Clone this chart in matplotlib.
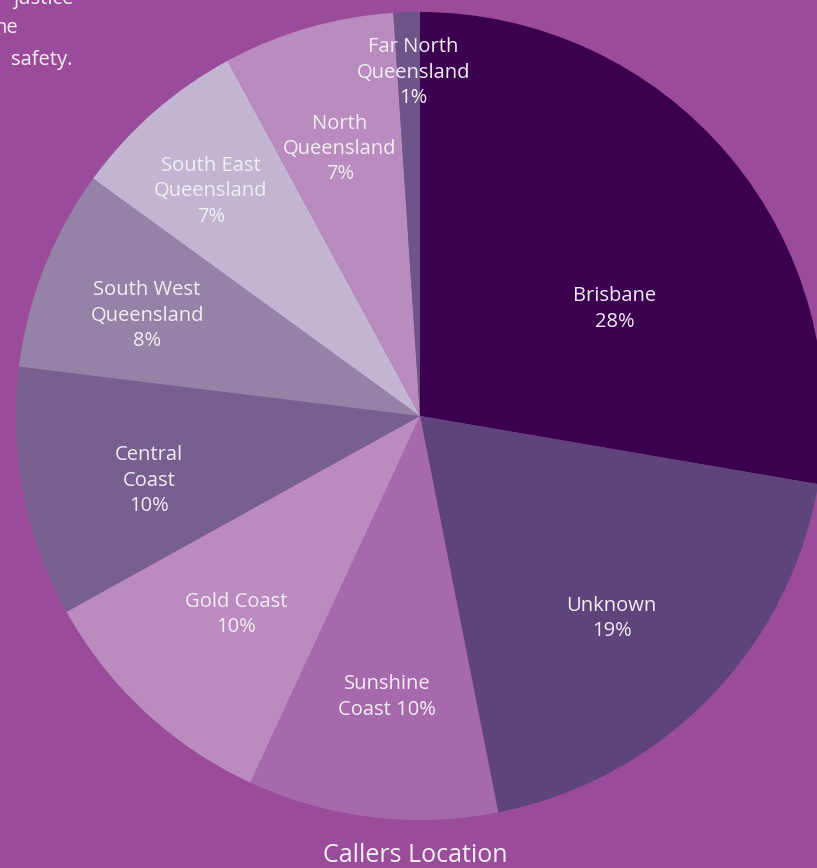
import numpy as np
import matplotlib
matplotlib.use("Agg")
import matplotlib.pyplot as plt

# Data
regions = ["Brisbane", "Unknown", "Sunshine Coast", "Gold Coast", "Central Coast",
           "South West Queensland", "South East Queensland", "North Queensland",
           "Far North Queensland"]
shares = [27.7, 19.2, 10.0, 10.05, 10.0, 8.05, 7.1, 6.85, 1.05]
label_texts = ["Brisbane\n28%", "Unknown\n19%", "Sunshine\nCoast 10%", "Gold Coast\n10%",
               "Central\nCoast\n10%", "South West\nQueensland\n8%", "South East\nQueensland\n7%",
               "North\nQueensland\n7%", "Far North\nQueensland\n1%"]
colors = ["#3c0050", "#5f447b", "#a66aac", "#bb8bc0", "#77608f",
          "#9483a7", "#c1b5d2", "#b98bbf", "#6d5589"]
title = "Callers Location"
intro_lines = ["justice", "ne", "safety."]

BG = "#9a4c9a"
W, H = 817, 868
fig = plt.figure(figsize=(W / 100, H / 100), dpi=100, facecolor=BG)
ax = fig.add_axes([0, 0, 1, 1])

cx, cy, R = 420, H - 416, 404
wedges, _ = ax.pie(shares, colors=colors, startangle=90, counterclock=False,
                   center=(cx, cy), radius=R, frame=True,
                   wedgeprops=dict(linewidth=0))
ax.set_xlim(0, W)
ax.set_ylim(0, H)
ax.set_aspect("equal")
ax.axis("off")

# label placement: radial fraction and angle shift from wedge mid-angle
label_r = [0.55, 0.69, 0.70, 0.67, 0.69, 0.72, 0.76, 0.69, 0.85]
label_dang = [-11.4, -2.3, 0.1, 0.1, 2.4, 1.3, 1.75, 0.6, -0.8]
font = ["Open Sans", "DejaVu Sans"]
for w, t, rf, da in zip(wedges, label_texts, label_r, label_dang):
    mid = np.deg2rad((w.theta1 + w.theta2) / 2 + da)
    ax.text(cx + rf * R * np.cos(mid), cy + rf * R * np.sin(mid), t,
            ha="center", va="center", color="#f2eef4", fontsize=14.5,
            family=font, linespacing=1.36)

ax.text(415, H - 855, title, ha="center", va="center", color="#f5f0f6",
        fontsize=18, family=font)

ys = [H + 1, H - 28, H - 60]
xs = [73, 18, 73]
for line, x, y in zip(intro_lines, xs, ys):
    ax.text(x, y, line, ha="right", va="center", color="#f5f0f6",
            fontsize=14.5, family=font)

fig.savefig("out.png", dpi=100, facecolor=BG)
